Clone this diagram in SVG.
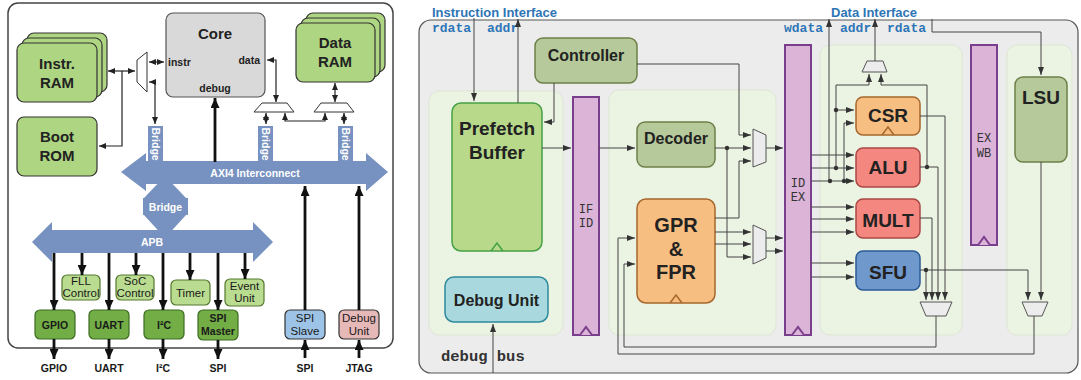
<svg xmlns="http://www.w3.org/2000/svg" width="1081" height="380" viewBox="0 0 1081 380">
<defs>
<style>
text{font-family:"Liberation Sans",Arial,sans-serif;}
.b{font-weight:bold;}
.mono{font-family:"Liberation Mono","Courier New",monospace;}
.c{text-anchor:middle;}
.ram{fill:#aed581;stroke:#333;stroke-width:1.2;}
.blue{fill:#7791c0;}
.wt{fill:#fff;font-weight:bold;font-size:10.5px;text-anchor:middle;}
.pd{fill:#72ad45;stroke:#3d6b22;stroke-width:1.2;}
.pl{fill:#b9dc90;stroke:#55782f;stroke-width:1.2;}
.lw{fill:none;stroke:#222;stroke-width:1.2;}
.tk{fill:none;stroke:#111;stroke-width:2.8;}
.mx{fill:#fff;stroke:#333;stroke-width:1;}
.rw{fill:none;stroke:#444;stroke-width:1;}
.mxr{fill:#ececec;stroke:#555;stroke-width:1;}
.stg{fill:#ebf3e3;stroke:#dde7d5;stroke-width:1;}
.reg{fill:#dbb4d8;stroke:#7a3f8c;stroke-width:2;}
.olive{fill:#b6c99a;stroke:#6e8048;stroke-width:1.5;}
.orng{fill:#f7be81;stroke:#a7672c;stroke-width:1.5;}
.red{fill:#f4877f;stroke:#a94845;stroke-width:1.5;}
.lbl{fill:#2e75b6;font-weight:bold;font-size:13px;}
.ml{fill:#2e75b6;font-family:"Liberation Mono","Courier New",monospace;font-weight:bold;font-size:13px;}
.rt{fill:#222;font-weight:bold;text-anchor:middle;}
.rg{fill:#333;font-family:"Liberation Mono","Courier New",monospace;font-size:12px;text-anchor:middle;}
.dot{fill:#333;}
</style>
<marker id="al" viewBox="0 0 7 6" refX="7" refY="3" markerWidth="7" markerHeight="6" markerUnits="userSpaceOnUse" orient="auto-start-reverse"><path d="M0,0L7,3L0,6z" fill="#222"/></marker>
<marker id="at" viewBox="0 0 10 9" refX="10" refY="4.5" markerWidth="10" markerHeight="9" markerUnits="userSpaceOnUse" orient="auto-start-reverse"><path d="M0,0L10,4.5L0,9z" fill="#111"/></marker>
<marker id="ar" viewBox="0 0 8 6" refX="8" refY="3" markerWidth="8" markerHeight="6" markerUnits="userSpaceOnUse" orient="auto-start-reverse"><path d="M0,0L8,3L0,6z" fill="#333"/></marker>
</defs>

<!-- ===== SoC overview (left) ===== -->
<rect x="8" y="3" width="385" height="345" rx="10" fill="#fff" stroke="#444" stroke-width="1.5"/>

<g id="instr-ram">
<rect class="ram" x="27" y="33" width="80" height="59" rx="7"/>
<rect class="ram" x="22" y="38" width="80" height="59" rx="7"/>
<rect class="ram" x="17" y="43" width="80" height="59" rx="7"/>
<text class="b c" x="57" y="68.5" font-size="15" fill="#222">Instr.</text>
<text class="b c" x="57" y="87.5" font-size="15" fill="#222">RAM</text>
</g>
<g id="boot-rom">
<rect class="ram" x="17" y="117" width="80" height="59" rx="7"/>
<text class="b c" x="57" y="142" font-size="15" fill="#222">Boot</text>
<text class="b c" x="57" y="161" font-size="15" fill="#222">ROM</text>
</g>
<g id="data-ram">
<rect class="ram" x="306" y="13" width="79" height="59" rx="7"/>
<rect class="ram" x="301" y="18" width="79" height="59" rx="7"/>
<rect class="ram" x="296" y="23" width="79" height="59" rx="7"/>
<text class="b c" x="335" y="48" font-size="15" fill="#222">Data</text>
<text class="b c" x="335" y="67" font-size="15" fill="#222">RAM</text>
</g>
<g id="core">
<rect x="166" y="13" width="99" height="84" rx="7" fill="#d9d9d9" stroke="#555" stroke-width="1.2"/>
<text class="b c" x="215" y="38.5" font-size="15" fill="#222">Core</text>
<text class="b" x="168" y="66" font-size="10.5" fill="#222">instr</text>
<text class="b" x="260" y="64" font-size="10.5" fill="#222" text-anchor="end">data</text>
<text class="b c" x="215" y="92" font-size="10.5" fill="#222">debug</text>
</g>
<g id="soc-muxes">
<polygon class="mx" points="137,60 147,52 147,92 137,82"/>
<polygon class="mx" points="262,103 287,103 294,112 254,112"/>
<polygon class="mx" points="321,103 347,103 354,112 314,112"/>
</g>

<g id="bridges">
<rect class="blue" x="148" y="126" width="15" height="37"/>
<rect class="blue" x="258" y="126" width="15" height="37"/>
<rect class="blue" x="338" y="126" width="15" height="37"/>
<text class="wt" transform="translate(155.5,144) rotate(90)" dy="3.7">Bridge</text>
<text class="wt" transform="translate(265.5,144) rotate(90)" dy="3.7">Bridge</text>
<text class="wt" transform="translate(345.5,144) rotate(90)" dy="3.7">Bridge</text>
</g>
<g id="apb-bridge">
<polygon class="blue" points="165,176 186,198 144,198"/>
<rect class="blue" x="143" y="198" width="45" height="17"/>
<polygon class="blue" points="144,215 186,215 165,238"/>
<text class="wt" x="165.5" y="210.5" font-size="11">Bridge</text>
</g>
<g id="axi4">
<polygon class="blue" points="121,172 146,153 146,161 366,161 366,153 388,172 366,191 366,184 146,184 146,191"/>
<text class="wt" x="255" y="176.5">AXI4 Interconnect</text>
</g>
<g id="apb">
<polygon class="blue" points="32,242 52,222 52,230 253,230 253,222 273,242 253,262 253,253 52,253 52,262"/>
<text class="wt" x="152" y="246">APB</text>
</g>

<g id="gpio"><rect class="pd" x="35" y="310" width="40" height="29" rx="5"/><text class="b c" x="55" y="329" font-size="10.5" fill="#1a1a1a">GPIO</text></g>
<g id="uart"><rect class="pd" x="89" y="310" width="40" height="29" rx="5"/><text class="b c" x="109" y="329" font-size="10.5" fill="#1a1a1a">UART</text></g>
<g id="i2c"><rect class="pd" x="144" y="310" width="40" height="29" rx="5"/><text class="b c" x="164" y="329" font-size="10.5" fill="#1a1a1a">I²C</text></g>
<g id="spi-master"><rect class="pd" x="198" y="310" width="40" height="30" rx="5"/><text class="b c" x="218" y="322" font-size="10.5" fill="#1a1a1a">SPI</text><text class="b c" x="218" y="335" font-size="10.5" fill="#1a1a1a">Master</text></g>
<g id="fll-control"><rect class="pl" x="62" y="275" width="38" height="25" rx="5"/><text class="c" x="81" y="285" font-size="11.5" fill="#1a1a1a">FLL</text><text class="c" x="81" y="297" font-size="11.5" fill="#1a1a1a">Control</text></g>
<g id="soc-control"><rect class="pl" x="116" y="275" width="38" height="25" rx="5"/><text class="c" x="135" y="285" font-size="11.5" fill="#1a1a1a">SoC</text><text class="c" x="135" y="297" font-size="11.5" fill="#1a1a1a">Control</text></g>
<g id="timer"><rect class="pl" x="171" y="280" width="39" height="25" rx="5"/><text class="c" x="190.5" y="297" font-size="11.5" fill="#1a1a1a">Timer</text></g>
<g id="event-unit"><rect class="pl" x="225" y="279" width="39" height="27" rx="5"/><text class="c" x="244.5" y="290" font-size="11.5" fill="#1a1a1a">Event</text><text class="c" x="244.5" y="302" font-size="11.5" fill="#1a1a1a">Unit</text></g>
<g id="spi-slave"><rect x="285" y="310" width="40" height="29" rx="5" fill="#9dc3e6" stroke="#333" stroke-width="1.2"/><text class="c" x="305" y="322" font-size="11.5" fill="#1a1a1a">SPI</text><text class="c" x="305" y="335" font-size="11.5" fill="#1a1a1a">Slave</text></g>
<g id="soc-debug-unit"><rect x="339" y="310" width="40" height="29" rx="5" fill="#e6b9b8" stroke="#333" stroke-width="1.2"/><text class="c" x="359" y="322" font-size="11.5" fill="#1a1a1a">Debug</text><text class="c" x="359" y="335" font-size="11.5" fill="#1a1a1a">Unit</text></g>

<g id="pin-labels" class="b c" font-size="10.5" fill="#1a1a1a">
<text x="54" y="372">GPIO</text><text x="109" y="372">UART</text><text x="163" y="372">I²C</text>
<text x="218" y="372">SPI</text><text x="305" y="372">SPI</text><text x="359" y="372">JTAG</text>
</g>

<g id="soc-connectors">
<path class="lw" d="M149,62H164" marker-start="url(#al)" marker-end="url(#al)"/>
<path class="lw" d="M149,82H155V124" marker-start="url(#al)" marker-end="url(#al)"/>
<path class="lw" d="M108,71H135" marker-start="url(#al)" marker-end="url(#al)"/>
<path class="lw" d="M122,71V146H99" marker-end="url(#al)"/>
<path class="lw" d="M267,60H276V102" marker-start="url(#al)" marker-end="url(#al)"/>
<path class="lw" d="M335,83V102" marker-start="url(#al)" marker-end="url(#al)"/>
<path class="lw" d="M266,113V124" marker-start="url(#al)" marker-end="url(#al)"/>
<path class="lw" d="M285,113V121H325V113" marker-start="url(#al)" marker-end="url(#al)"/>
<path class="lw" d="M344,113V124" marker-start="url(#al)" marker-end="url(#al)"/>
<path class="tk" d="M215,162V98" marker-end="url(#at)"/>
<path class="tk" d="M54,253V310" marker-end="url(#at)"/>
<path class="tk" d="M82,253V275" marker-end="url(#at)"/>
<path class="tk" d="M109,253V310" marker-end="url(#at)"/>
<path class="tk" d="M136,253V275" marker-end="url(#at)"/>
<path class="tk" d="M163,253V310" marker-end="url(#at)"/>
<path class="tk" d="M190,253V280" marker-end="url(#at)"/>
<path class="tk" d="M218,253V310" marker-end="url(#at)"/>
<path class="tk" d="M245,253V279" marker-end="url(#at)"/>
<path class="tk" d="M54,339V359" marker-end="url(#at)"/>
<path class="tk" d="M109,339V359" marker-end="url(#at)"/>
<path class="tk" d="M163,339V359" marker-end="url(#at)"/>
<path class="tk" d="M218,340V359" marker-end="url(#at)"/>
<path class="tk" d="M305,358V340" marker-end="url(#at)"/>
<path class="tk" d="M359,358V340" marker-end="url(#at)"/>
<path class="tk" d="M305,310V186" marker-end="url(#at)"/>
<path class="tk" d="M359,310V186" marker-end="url(#at)"/>
</g>

<!-- ===== Core pipeline (right) ===== -->
<rect x="419" y="20" width="659" height="353" rx="12" fill="#ececec" stroke="#555" stroke-width="1.2"/>
<rect class="stg" x="429" y="91" width="134" height="244" rx="10"/>
<rect class="stg" x="609" y="90" width="167" height="245" rx="10"/>
<rect class="stg" x="820" y="45" width="142" height="290" rx="10"/>
<rect class="stg" x="1007" y="45" width="65" height="290" rx="10"/>

<text class="lbl" x="432" y="16.5">Instruction Interface</text>
<text class="ml" x="432" y="32">rdata</text>
<text class="ml" x="487" y="32">addr</text>
<text class="lbl" x="831" y="16.5">Data Interface</text>
<text class="ml" x="784" y="32">wdata</text>
<text class="ml" x="840" y="32">addr</text>
<text class="ml" x="887" y="32">rdata</text>
<text x="441" y="361" class="mono b" font-size="15.5" fill="#333">debug bus</text>

<g id="if-id"><rect class="reg" x="573" y="97" width="26" height="238"/><path class="reg" d="M580,335L586,327L592,335"/><text class="rg" x="586" y="213">IF</text><text class="rg" x="586" y="227">ID</text></g>
<g id="id-ex"><rect class="reg" x="785" y="45" width="26" height="290"/><path class="reg" d="M792,335L798,327L804,335"/><text class="rg" x="798" y="187">ID</text><text class="rg" x="798" y="201">EX</text></g>
<g id="ex-wb"><rect class="reg" x="971" y="45" width="26" height="200"/><path class="reg" d="M978,245L984,237L990,245"/><text class="rg" x="984" y="142">EX</text><text class="rg" x="984" y="157">WB</text></g>

<g id="controller"><rect class="olive" x="535" y="38" width="102" height="45" rx="8"/><text class="rt" x="586" y="61" font-size="16">Controller</text></g>
<g id="prefetch-buffer"><rect x="452" y="103" width="90" height="148" rx="9" fill="#b8d98a" stroke="#45a146" stroke-width="1.5"/><path d="M491,251L497,243L503,251" fill="none" stroke="#45a146" stroke-width="1.5"/><text class="rt" x="497" y="135" font-size="19">Prefetch</text><text class="rt" x="497" y="159" font-size="19">Buffer</text></g>
<g id="debug-unit"><rect x="445" y="277" width="103" height="45" rx="9" fill="#a9d9de" stroke="#2e8a9c" stroke-width="1.5"/><text class="rt" x="496.5" y="305.5" font-size="16">Debug Unit</text></g>
<g id="decoder"><rect class="olive" x="637" y="122" width="78" height="45" rx="8"/><text class="rt" x="676" y="144" font-size="16">Decoder</text></g>
<g id="gpr-fpr"><rect class="orng" x="637" y="199" width="78" height="104" rx="9"/><path d="M670,303L676,295L682,303" fill="none" stroke="#a7672c" stroke-width="1.5"/><text class="rt" x="676" y="232" font-size="20">GPR</text><text class="rt" x="676" y="256" font-size="20">&amp;</text><text class="rt" x="676" y="279" font-size="20">FPR</text></g>
<g id="csr"><rect class="orng" x="856" y="97" width="64" height="38" rx="7"/><path d="M882,135L888,127L894,135" fill="none" stroke="#a7672c" stroke-width="1.5"/><text class="rt" x="888" y="122" font-size="19">CSR</text></g>
<g id="alu"><rect class="red" x="856" y="148" width="64" height="39" rx="7"/><text class="rt" x="888" y="174" font-size="19">ALU</text></g>
<g id="mult"><rect class="red" x="856" y="199" width="64" height="39" rx="7"/><text class="rt" x="888" y="227" font-size="19">MULT</text></g>
<g id="sfu"><rect x="856" y="251" width="64" height="39" rx="7" fill="#6f98cc" stroke="#2d5c95" stroke-width="1.5"/><text class="rt" x="888" y="279" font-size="19">SFU</text></g>
<g id="lsu"><rect class="olive" x="1015" y="77" width="52" height="85" rx="8"/><text class="rt" x="1041" y="104" font-size="19">LSU</text></g>

<g id="pipeline-muxes">
<polygon class="mxr" points="753,129 766,135 766,162 753,167"/>
<polygon class="mxr" points="753,225 766,231 766,258 753,264"/>
<polygon class="mxr" points="867,61 883,61 887,72 862,72"/>
<polygon class="mxr" points="920,302 952,302 946,316 926,316"/>
<polygon class="mxr" points="1022,302 1048,302 1042,316 1028,316"/>
</g>

<g id="pipeline-connectors">
<path class="rw" d="M474,18V101" marker-end="url(#ar)"/>
<path class="rw" d="M518,103V19" marker-end="url(#ar)"/>
<path class="rw" d="M554,83V122H544" marker-end="url(#ar)"/>
<path class="rw" d="M542,148H571" marker-end="url(#ar)"/>
<path class="rw" d="M599,148H635" marker-end="url(#ar)"/>
<path class="rw" d="M637,64H739V135H751" marker-end="url(#ar)"/>
<path class="rw" d="M715,148H751" marker-end="url(#ar)"/>
<path class="rw" d="M727,148V257H751" marker-end="url(#ar)"/>
<path class="rw" d="M715,218H739V161H751" marker-end="url(#ar)"/>
<path class="rw" d="M715,232H751" marker-end="url(#ar)"/>
<path class="rw" d="M715,244H751" marker-end="url(#ar)"/>
<path class="rw" d="M766,148H783" marker-end="url(#ar)"/>
<path class="rw" d="M766,238H783" marker-end="url(#ar)"/>
<path class="rw" d="M766,251H783" marker-end="url(#ar)"/>
<path class="rw" d="M811,155H854" marker-end="url(#ar)"/>
<path class="rw" d="M811,168H854" marker-end="url(#ar)"/>
<path class="rw" d="M811,181H854" marker-end="url(#ar)"/>
<path class="rw" d="M836,168V85H869V74" marker-end="url(#ar)"/>
<path class="rw" d="M836,110H854" marker-end="url(#ar)"/>
<path class="rw" d="M844,181V123H854" marker-end="url(#ar)"/>
<path class="rw" d="M829,181V19" marker-end="url(#ar)"/>
<path class="rw" d="M811,207H854" marker-end="url(#ar)"/>
<path class="rw" d="M811,219H854" marker-end="url(#ar)"/>
<path class="rw" d="M811,232H854" marker-end="url(#ar)"/>
<path class="rw" d="M811,263H854" marker-end="url(#ar)"/>
<path class="rw" d="M811,277H854" marker-end="url(#ar)"/>
<path class="rw" d="M920,116H945V300" marker-end="url(#ar)"/>
<path class="rw" d="M920,167H938V300" marker-end="url(#ar)"/>
<path class="rw" d="M927,167V85H881V74" marker-end="url(#ar)"/>
<path class="rw" d="M920,218H932V300" marker-end="url(#ar)"/>
<path class="rw" d="M920,270H1028V300" marker-end="url(#ar)"/>
<path class="rw" d="M926,270V300" marker-end="url(#ar)"/>
<path class="rw" d="M1041,162V300" marker-end="url(#ar)"/>
<path class="rw" d="M932,19V32H1041V75" marker-end="url(#ar)"/>
<path class="rw" d="M875,61V19" marker-end="url(#ar)"/>
<path class="rw" d="M936,316V347H624V264H635" marker-end="url(#ar)"/>
<path class="rw" d="M1034,316V354H618V238H635" marker-end="url(#ar)"/>
<path class="rw" d="M493,373V324" marker-end="url(#ar)"/>
<circle class="dot" cx="727" cy="148" r="2.2"/>
<circle class="dot" cx="836" cy="110" r="2.2"/>
<circle class="dot" cx="836" cy="168" r="2.2"/>
<circle class="dot" cx="830" cy="181" r="2.2"/>
<circle class="dot" cx="844" cy="181" r="2.2"/>
<circle class="dot" cx="927" cy="167" r="2.2"/>
<circle class="dot" cx="926" cy="270" r="2.2"/>
</g>
</svg>
